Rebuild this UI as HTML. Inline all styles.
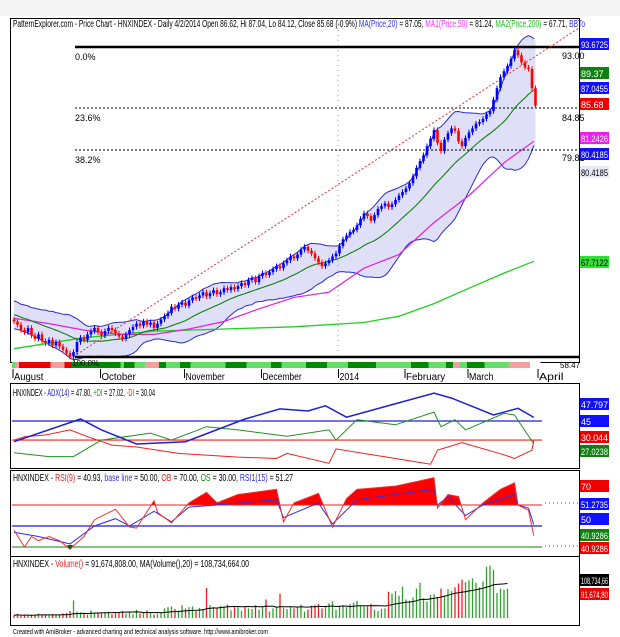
<!DOCTYPE html>
<html><head><meta charset="utf-8">
<style>
html,body{margin:0;padding:0;background:#fff;}
svg{display:block;font-family:"Liberation Sans",sans-serif;}
</style></head>
<body>
<svg id="chart" width="620" height="637" viewBox="0 0 620 637" xmlns="http://www.w3.org/2000/svg">
<rect x="0" y="0" width="620" height="637" fill="#ffffff"/>
<rect x="0" y="0" width="620" height="16" fill="#f4f4f4"/>
<g id="g"></g>
</svg>
<script>
// ---------- DATA ----------
const preCloses=[63.5,63.8,63.2,62.9,63.4,63.0,62.6,62.8,62.3,62.5,62.0,62.2,61.9,62.1,61.6,61.8,62.0,61.5,61.9];
const closes=[61.8,61.5,61.0,60.8,61.2,60.5,60.2,60.6,60.0,59.8,60.1,59.6,59.9,59.5,59.2,58.9,58.6,
59.0,59.9,60.3,60.1,60.6,60.9,61.2,60.8,60.5,
60.9,61.2,61.0,60.7,60.4,60.2,60.6,61.0,61.3,61.6,61.4,61.8,61.5,61.7,
61.2,61.6,62.0,62.3,62.6,63.2,63.0,63.4,63.6,63.3,
63.8,64.1,64.0,64.3,64.6,64.2,64.5,64.8,64.4,64.6,65.0,64.8,65.1,64.9,65.2,
65.5,65.3,65.8,66.0,65.6,66.2,66.5,66.3,
66.6,66.9,67.2,67.0,67.5,67.8,68.2,68.0,68.4,68.9,69.2,68.8,68.5,
68.0,67.6,67.2,67.5,67.8,
68.2,68.5,69.3,70.0,70.4,70.8,71.0,71.5,
72.2,72.8,72.5,72.0,72.6,73.3,73.6,
73.9,73.5,73.8,74.3,74.8,75.2,75.6,76.2,
77.0,78.0,78.8,79.5,80.6,81.5,82.6,
81.0,80.0,81.4,82.2,82.8,82.5,81.2,80.6,81.6,
82.3,82.8,83.4,83.6,84.0,84.6,85.0,
86.5,88.0,89.5,90.3,91.0,92.0,93.2,92.5,
91.5,90.8,90.6,88.0,85.7];
const ma50Idx=[0,10,20,30,40,50,60,70,80,90,100,110,120,130,140,149];
const ma50Val=[62.1,61.6,61.0,60.6,60.6,61.1,61.8,63.0,64.1,64.6,67.0,68.4,71.8,74.8,78.6,81.2];
const ma200Idx=[0,20,40,60,80,100,110,120,130,140,149];
const ma200Val=[59.3,60.3,60.9,61.1,61.3,61.7,62.3,63.5,65.0,66.5,67.7];
const ribbonIdx=[[0,1],[1,2],[2,11],[11,15],[15,17],[17,31],[31,32],[32,35],[35,38],[38,42],[42,44],[44,48],[48,51],[51,61],[61,67],[67,74],[74,77],[77,84],[84,90],[90,96],[96,104],[104,114],[114,119],[119,124],[124,126],[126,128],[128,130],[130,135],[135,142],[142,148],[148,151]];
const ribbonCol=['lg','pk','rd','pk','rd','dg','lg','dg','lg','pk','dg','lg','dg','lg','dg','lg','dg','lg','dg','lg','dg','lg','dg','lg','dg','pk','lg','dg','lg','pk','wh'];
const monthNames=['August','October','November','December','2014','February','March','April'];
const monthIdx=[0,25,49,71,93,112,130,150];
const adxIdx=[0,19,25,35,49,66,76,84,89,95,120,125,137,144,149];
const adxVal=[28.7,46.6,38,26.9,28.7,46.6,54.5,52.9,57,48,67,63,49.7,55,47.8];
const pdiIdx=[0,10,17,25,39,45,55,64,78,90,92,98,109,120,122,126,129,140,143,149];
const pdiVal=[20,17,17,30,35.5,30,40.5,38,33,38,30,46,42,52,40.5,46,38,51,49.7,27];
const mdiIdx=[0,3,9,16,21,28,35,47,64,75,78,90,92,109,119,121,128,140,143,148,149];
const mdiVal=[30,32.6,34,38,32.6,26,24.5,19.5,16.6,15.5,19.5,11.7,23,15.5,11,22,27.9,18.4,15.5,22,30];
const rsiIdx=[0,3,5,7,10,13,16,20,23,29,33,35,40,41,45,50,53,55,58,64,75,77,80,87,91,95,98,109,120,121,124,127,129,134,139,143,144,147,149];
const rsiVal=[46,30,40,36,40,36,28,40,56,66,49,48,74,63,53,72,78,82,72,80,85,54,72,81,49,76,85,88,96,67,80,78,56,72,85,91,70,65,40.9];
const rsi15Idx=[0,7,16,23,29,33,40,45,50,58,75,77,87,91,98,120,121,124,129,134,143,144,147,149];
const rsi15Val=[44,40,33,50,57,50,64,54,68,70,75,58,72,52,75,85,70,78,60,70,80,70,67,51.3];
const volumes=[8,12,6,10,9,8,11,14,9,10,8,12,9,10,14,16,22,55,20,18,12,10,24,16,15,
14,18,20,12,16,18,22,14,20,12,26,14,16,24,18,
10,12,16,30,34,36,28,24,40,30,34,36,22,32,28,94,40,34,30,38,
36,42,24,38,34,22,34,30,28,40,26,36,58,20,30,34,76,32,28,34,
30,36,42,20,26,38,40,44,30,36,46,52,26,36,40,34,44,48,54,38,
36,36,44,26,22,28,30,82,76,84,70,98,58,54,64,92,110,62,52,72,
74,66,92,70,90,84,96,108,120,112,118,124,110,96,114,160,164,150,78,92,88,92];
// ---------- HELPERS ----------
const NS='http://www.w3.org/2000/svg';
const G=document.getElementById('g');
function mk(tag,attrs,parent){const e=document.createElementNS(NS,tag);for(const k in attrs)e.setAttribute(k,attrs[k]);(parent||G).appendChild(e);return e;}
const X0=14,DX=3.5;
function bx(i){return X0+i*DX;}
function py(p){return 47+Math.log(93.67/p)*660;}
function ay(v){return 421+(45-v)*1.27;}
function ry(v){return 526-(v-50)*1.05;}
function vy(v){return 618-v*0.32;}
function txt(x,y,s,attrs,name){const t=mk('text',Object.assign({x:x,y:y,'font-size':10,fill:'#000'},attrs||{}));t.textContent=s;

return t;}
function label(y,s,bg,fg,name){const r=mk('rect',{x:580,y:y-6,width:29,height:12,fill:bg});


const at={'font-size':9,fill:fg};if(s.length>=6){at.textLength=27;at.lengthAdjust='spacingAndGlyphs';}
txt(581,y+4,s,at,name);}
function poly(idx,vals,fy,attrs,name){const pts=idx.map((i,k)=>bx(Math.min(i,148.5)).toFixed(1)+','+fy(vals[k]).toFixed(1)).join(' ');const p=mk('polyline',Object.assign({points:pts,fill:'none'},attrs));

return p;}
// ---------- FRAMES ----------
const frames=[[18,362],[383,468],[470,556],[556,625]];
frames.forEach((f,k)=>{const r=mk('rect',{x:10.5,y:f[0]+.5,width:569,height:f[1]-f[0],fill:'none',stroke:'#000','stroke-width':1});

});
// ---------- PRICE PANE ----------
const all=preCloses.concat(closes);const P=preCloses.length;
const mid=[],up=[],lo=[];
closes.forEach((c,i)=>{const w=all.slice(Math.max(0,i+P-19),i+P+1);const m=w.reduce((a,b)=>a+b,0)/w.length;const sd=Math.sqrt(w.reduce((a,b)=>a+(b-m)*(b-m),0)/w.length);mid.push(m);up.push(m+2*sd);lo.push(m-2*sd);});
const band=mk('polygon',{points:up.map((v,i)=>bx(i)+','+py(v)).concat(lo.map((v,i)=>bx(i)+','+py(v)).reverse()).join(' '),fill:'#dfe0f8',stroke:'none'});


const allIdx=closes.map((c,i)=>i);
poly(allIdx,up,py,{stroke:'#2a2ad0','stroke-width':1},'bollinger-upper');
poly(allIdx,lo,py,{stroke:'#2a2ad0','stroke-width':1},'bollinger-lower');
const fl=mk('line',{x1:75,y1:47,x2:579,y2:47,stroke:'#000','stroke-width':2.5});


[[108,'fib-23-line'],[150,'fib-38-line']].forEach(a=>{const l=mk('line',{x1:75,y1:a[0],x2:579,y2:a[0],stroke:'#000','stroke-width':1,'stroke-dasharray':'2,2'});

});
const bl=mk('line',{x1:75,y1:357,x2:579,y2:357,stroke:'#000','stroke-width':2.5});


const tl=mk('line',{x1:bx(16),y1:py(58.4),x2:579,y2:28,stroke:'#e03030','stroke-width':1,'stroke-dasharray':'2,2'});


const vd=mk('line',{x1:338,y1:20,x2:338,y2:360,stroke:'#999','stroke-width':1,'stroke-dasharray':'1,4'});


poly(ma200Idx,ma200Val,py,{stroke:'#20d020','stroke-width':1.3},'ma200-line');
poly(ma50Idx,ma50Val,py,{stroke:'#e020e0','stroke-width':1.2},'ma50-line');
poly(allIdx,mid,py,{stroke:'#108010','stroke-width':1.1},'ma20-line');
closes.forEach((c,i)=>{const o=i?closes[i-1]:62;const upb=c>=o;const col=upb?'#0000ff':'#ff0000';
const h=Math.max(o,c)*1.004,l=Math.min(o,c)*0.996;
const w=mk('line',{x1:bx(i),x2:bx(i),y1:py(h),y2:py(l),stroke:col,'stroke-width':1});


const y1=py(Math.max(o,c)),y2=py(Math.min(o,c));
const b=mk('rect',{x:bx(i)-1.3,y:y1,width:2.6,height:Math.max(1.5,y2-y1),fill:col});

});
txt(75,60,'0.0%',{'font-size':9},'fib-0-label');
txt(75,121,'23.6%',{'font-size':9},'fib-23-label');
txt(75,163,'38.2%',{'font-size':9},'fib-38-label');
txt(562,59,'93.00',{'font-size':9},'fib-93-value');
txt(562,121,'84.85',{'font-size':9},'fib-84-value');
txt(562,161,'79.81',{'font-size':9},'fib-79-value');
const rc={lg:'#66dd66',dg:'#008800',rd:'#ee0000',pk:'#f4a0a0',wh:'#ffffff'};
ribbonIdx.forEach((s,k)=>{const r=mk('rect',{x:bx(s[0])-2,y:362,width:(s[1]-s[0])*DX,height:6,fill:rc[ribbonCol[k]]});

});
txt(72,366,'100.0%',{'font-size':8},'fib-100-label');
txt(560,368,'58.47',{'font-size':8},'low-value');
const t=mk('text',{x:13,y:27,'font-size':10,fill:'#000',textLength:572,lengthAdjust:'spacingAndGlyphs'});


t.innerHTML='PatternExplorer.com - Price Chart - HNXINDEX - Daily 4/2/2014 Open 86.62, Hi 87.04, Lo 84.12, Close 85.68 (-0.9%) <tspan fill="#3030ff">MA(Price,20)</tspan> = 87.05, <tspan fill="#ff30ff">MA1(Price,50)</tspan> = 81.24, <tspan fill="#20c020">MA2(Price,200)</tspan> = 67.71, <tspan fill="#3030ff">BBTo</tspan>';
label(44,'93.6725','#1010ff','#fff','label-93-6725');
label(73,'89.37','#108010','#fff','label-ma20-89');
label(88,'87.0455','#1010ff','#fff','label-87-0455');
label(104,'85.68','#ee0000','#fff','label-close');
label(138,'81.2426','#ee20ee','#fff','label-ma50');
label(154,'80.4185','#1010ff','#fff','label-bb-lower');
label(172,'80.4185','#e8e8f8','#000','label-80-4185');
label(262,'67.7122','#30e030','#000','label-ma200');
monthNames.forEach((m,k)=>{const x=Math.min(bx(monthIdx[k])-1,540);
const tk=mk('line',{x1:x,x2:x,y1:369,y2:378,stroke:'#000','stroke-width':1});


txt(x+1,380,m,{'font-size':10,textLength:m.length*4.9,lengthAdjust:'spacingAndGlyphs'},'date-label-'+m.toLowerCase());});
// ---------- ADX PANE ----------
const l45=mk('line',{x1:12,x2:542,y1:ay(45),y2:ay(45),stroke:'#2020d0','stroke-width':1.2});


const l30=mk('line',{x1:12,x2:542,y1:ay(30),y2:ay(30),stroke:'#ee2020','stroke-width':1.2});


poly(mdiIdx,mdiVal,ay,{stroke:'#ee2020','stroke-width':1},'minus-di-line');
poly(pdiIdx,pdiVal,ay,{stroke:'#209020','stroke-width':1},'plus-di-line');
poly(adxIdx,adxVal,ay,{stroke:'#2020d0','stroke-width':1.5},'adx-line');
const t2=mk('text',{x:13,y:396,'font-size':10,fill:'#000',textLength:142,lengthAdjust:'spacingAndGlyphs'});


t2.innerHTML='HNXINDEX - <tspan fill="#2020d0">ADX(14)</tspan> = 47.80, <tspan fill="#209020">+DI</tspan> = 27.02, <tspan fill="#ee2020">-DI</tspan> = 30.04';
label(404,'47.797','#1010ff','#fff','label-adx');
label(421,'45','#1010ff','#fff','label-adx-45');
label(437,'30.044','#ee0000','#fff','label-minus-di');
label(451,'27.0238','#108010','#fff','label-plus-di');
// ---------- RSI PANE ----------
const rpts=rsiIdx.map((i,k)=>[bx(Math.min(i,148.5)),ry(rsiVal[k])]);
const cp=mk('clipPath',{id:'ob'});const cr=mk('rect',{x:10,y:470,width:570,height:ry(70)-470},cp);
const fillP=mk('polygon',{points:rpts.map(p=>p[0]+','+p[1]).join(' ')+' '+bx(148.5)+','+ry(70)+' '+bx(0)+','+ry(70),fill:'#ff0000','clip-path':'url(#ob)'});


[[70,'#ee2020','rsi-ob-line'],[50,'#4040e0','rsi-base-line'],[30,'#108010','rsi-os-line']].forEach(a=>{const l=mk('line',{x1:12,x2:542,y1:ry(a[0]),y2:ry(a[0]),stroke:a[1],'stroke-width':a[0]==50?1.6:1});

});
poly(rsi15Idx,rsi15Val,ry,{stroke:'#3030e0','stroke-width':1},'rsi15-line');
poly(rsiIdx,rsiVal,ry,{stroke:'#ee3030','stroke-width':1},'rsi9-line');
const tri=mk('polygon',{points:(bx(16)-3)+','+(ry(30)-2)+' '+(bx(16)+3)+','+(ry(30)-2)+' '+bx(16)+','+(ry(30)+3),fill:'#106010'});


const t3=mk('text',{x:13,y:481,'font-size':10,fill:'#000',textLength:280,lengthAdjust:'spacingAndGlyphs'});


t3.innerHTML='HNXINDEX - <tspan fill="#ee2020">RSI(9)</tspan> = 40.93, <tspan fill="#3030e0">base line</tspan> = 50.00, <tspan fill="#ee2020">OB</tspan> = 70.00, <tspan fill="#108010">OS</tspan> = 30.00, <tspan fill="#3030e0">RSI1(15)</tspan> = 51.27';
[[503,'rsi-dots-1'],[546,'rsi-dots-2']].forEach(a=>{const l=mk('line',{x1:545,x2:579,y1:a[0],y2:a[0],stroke:'#666','stroke-dasharray':'1,3'});

});
label(486,'70','#ee0000','#fff','label-rsi-70');
label(504,'51.2735','#1010ff','#fff','label-rsi15');
label(519,'50','#1010ff','#fff','label-rsi-50');
label(535,'40.9286','#108010','#fff','label-rsi-green');
label(548,'40.9286','#ee0000','#fff','label-rsi-red');
// ---------- VOLUME PANE ----------
volumes.forEach((v,i)=>{const o=i?closes[i-1]:62;const col=closes[i]>=o?'#30a030':'#ee2020';
const b=mk('line',{x1:bx(i),x2:bx(i),y1:618,y2:vy(v),stroke:col,'stroke-width':1.3});

});
const vma=volumes.map((v,i)=>{const w=volumes.slice(Math.max(0,i-19),i+1);return w.reduce((a,b)=>a+b,0)/w.length;});
poly(allIdx,vma,vy,{stroke:'#000','stroke-width':1},'volume-ma-line');
const t4=mk('text',{x:13,y:567,'font-size':10,fill:'#000',textLength:236,lengthAdjust:'spacingAndGlyphs'});


t4.innerHTML='HNXINDEX - <tspan fill="#ee2020">Volume()</tspan> = 91,674,808.00, MA(Volume(),20) = 108,734,664.00';
label(580,'108,734,66','#000','#fff','label-volume-ma');
label(594,'91,674,80','#ee0000','#fff','label-volume');
txt(13,634,'Created with AmiBroker - advanced charting and technical analysis software. http://www.amibroker.com',{'font-size':7,textLength:255,lengthAdjust:'spacingAndGlyphs'},'footer-credit');
</script>
</body></html>
